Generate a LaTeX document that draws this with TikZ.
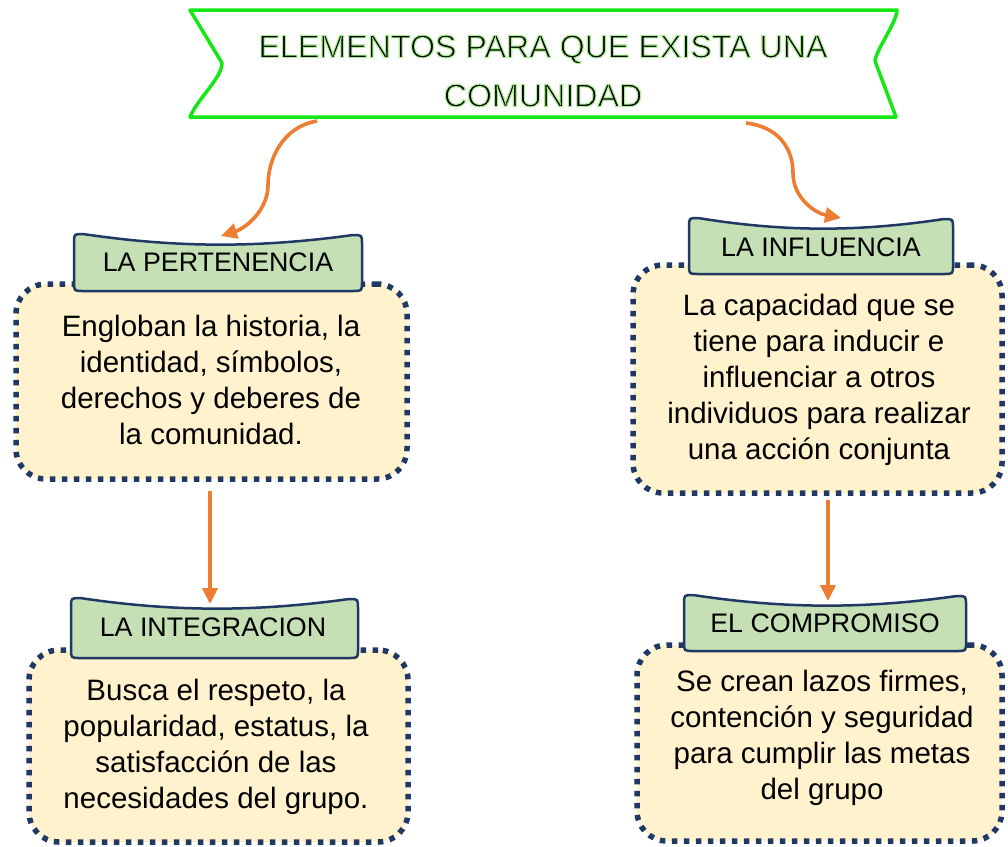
\documentclass[tikz,border=0pt]{standalone}
\usepackage{fontspec}
\setmainfont{Liberation Sans}
\usetikzlibrary{arrows.meta}
\definecolor{bannergreen}{RGB}{20,232,20}
\definecolor{navy}{HTML}{203864}
\definecolor{tabfill}{HTML}{C5E0B4}
\definecolor{boxfill}{HTML}{FFF2CC}
\definecolor{arrorange}{HTML}{ED7D31}
\newcommand\glowon{\special{pdf:literal direct 2 Tr 1.1 w 0.66 0.93 0.56 RG}}
\newcommand\glowoff{\special{pdf:literal direct 0 Tr}}
\newcommand\mytab[4]{% x1, x2, ytop, ybot
  \filldraw[tabline] (#1,#4-9) -- (#1,#3+9) .. controls (#1,#3) .. (#1+9,#3)
    .. controls ({#1+0.36*(#2-#1)},#3+14) and ({#2-0.36*(#2-#1)},#3+14) .. (#2-9,#3+1)
    .. controls (#2,#3+1) .. (#2,#3+10) -- (#2,#4-9) .. controls (#2,#4) .. (#2-9,#4)
    -- (#1+9,#4) .. controls (#1,#4) .. cycle;}
\begin{document}
\begin{tikzpicture}[x=1pt,y=-1pt,
  bodytext/.style={font=\fontsize{29.5}{36}\selectfont, align=center},
  tabtext/.style={font=\fontsize{26.8}{30}\selectfont, inner sep=0pt},
  titletext/.style={font=\fontsize{32.2}{49}\selectfont, align=center, inner sep=0pt},
  infobox/.style={draw=navy, fill=boxfill, line width=5.5pt, dash pattern=on 5.5pt off 6.5pt,
     rounded corners=30pt, inner sep=0pt},
  tabline/.style={draw=navy, fill=tabfill, line width=2.5pt},
  conn/.style={draw=arrorange, line width=3.6pt, -{Triangle[length=16pt,width=15pt]}}]
\useasboundingbox (0,0) rectangle (1008,846);
\fill[white] (0,0) rectangle (1008,846);
% banner
\draw[bannergreen, line width=3.5pt, line join=round]
  (190,10) -- (897,10) .. controls (897,22) and (876,50) .. (875,61)
  -- (896,117) -- (190,117) .. controls (198,98) and (222,78) .. (222,63) -- cycle;
\node[titletext] (title) at (543,71) {\glowon ELEMENTOS PARA QUE EXISTA UNA\\COMUNIDAD\glowoff};
% boxes
\node[infobox, minimum width=391pt, minimum height=195pt] (b1) at (211.5,381.5) {};
\node[bodytext] (t1) at (211,380) {Engloban la historia, la\\identidad, símbolos,\\derechos y deberes de\\la comunidad.};
\node[infobox, minimum width=369pt, minimum height=228pt] (b2) at (817.5,379) {};
\node[bodytext] (t2) at (819,379.5) {La capacidad que se\\tiene para inducir e\\influenciar a otros\\individuos para realizar\\una acción conjunta};
\node[infobox, minimum width=379pt, minimum height=192pt] (b3) at (218.5,746) {};
\node[bodytext] (t3) at (216,747) {Busca el respeto, la\\popularidad, estatus, la\\satisfacción de las\\necesidades del grupo.};
\node[infobox, minimum width=365pt, minimum height=196pt] (b4) at (819.5,743) {};
\node[bodytext] (t4) at (822,738) {Se crean lazos firmes,\\contención y seguridad\\para cumplir las metas\\del grupo};
% tabs
\mytab{74}{362}{234}{291}
\node[tabtext] (l1) at (218,262) {LA PERTENENCIA};
\mytab{689}{953}{218}{274}
\node[tabtext] (l2) at (821,247) {LA INFLUENCIA};
\mytab{71}{358}{598}{658}
\node[tabtext] (l3) at (213,627) {LA INTEGRACION};
\mytab{684}{966}{595}{651}
\node[tabtext] (l4) at (825,623) {EL COMPROMISO};
% connector end points
\coordinate (s1) at (317,121);
\coordinate (e1) at (221,236);
\coordinate (s2) at (746,123);
\coordinate (e2) at (841,218);
\coordinate (s3) at (210,491);
\coordinate (e3) at (210,604);
\coordinate (s4) at (828,500);
\coordinate (e4) at (828,601);
\draw[conn] (s1) .. controls (282,127) and (268,160) .. (268,185)
  .. controls (268,210) and (246,228) .. (e1);
\draw[conn] (s2) .. controls (780,127) and (793,150) .. (793,173)
  .. controls (793,198) and (815,213) .. (e2);
\draw[conn] (s3) -- (e3);
\draw[conn] (s4) -- (e4);
\end{tikzpicture}
\end{document}
